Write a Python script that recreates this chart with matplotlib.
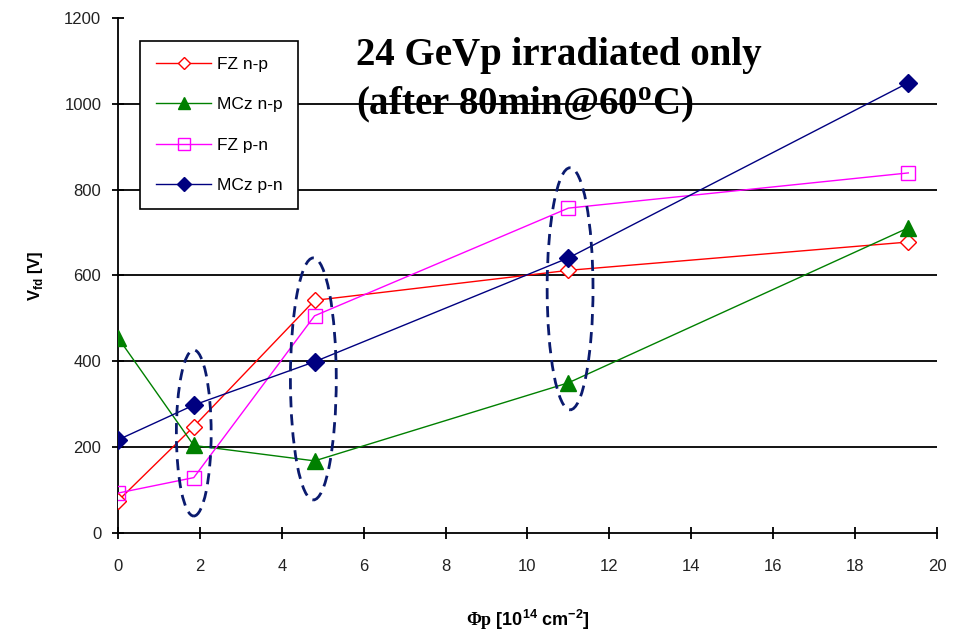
import matplotlib.pyplot as plt
from matplotlib.patches import Ellipse

fluence = [0, 1.85, 4.8, 11.0, 19.3]
fz_np = [75, 248, 542, 612, 678]
mcz_np = [455, 204, 168, 350, 711]
fz_pn = [93, 129, 506, 757, 839]
mcz_pn = [217, 298, 399, 641, 1049]

# ellipses around the grouped points: (x centre, y centre, width, height)
ellipse_x = [1.85, 4.77, 11.04]
ellipse_y = [233, 359, 569]
ellipse_w = [0.85, 1.12, 1.12]
ellipse_h = [387, 564, 564]

plt.rcParams['font.family'] = ['Liberation Sans', 'DejaVu Sans']
plt.rcParams['mathtext.fontset'] = 'custom'
plt.rcParams['mathtext.rm'] = 'Liberation Serif'
plt.rcParams['mathtext.bf'] = 'Liberation Serif:bold'
plt.rcParams['mathtext.sf'] = 'Liberation Sans:bold'

fig = plt.figure(figsize=(9.61, 6.38), dpi=100)
ax = fig.add_axes([0.1228, 0.1646, 0.975 - 0.1228, 0.9718 - 0.1646])

ax.plot(fluence, fz_np, color='red', lw=1, marker='D', ms=8, mfc='white',
        mec='red', label='FZ n-p', zorder=4)
ax.plot(fluence, mcz_np, color='green', lw=1, marker='^', ms=11, mfc='green',
        mec='green', label='MCz n-p', zorder=4)
ax.plot(fluence, fz_pn, color='magenta', lw=1, marker='s', ms=10, mfc='none',
        mec='magenta', label='FZ p-n', zorder=4)
ax.plot(fluence, mcz_pn, color='navy', lw=1, marker='D', ms=9, mfc='navy',
        mec='navy', label='MCz p-n', zorder=4)

for x, y, w, h in zip(ellipse_x, ellipse_y, ellipse_w, ellipse_h):
    ax.add_patch(Ellipse((x, y), w, h, fill=False, ec='#0a1a6e', lw=2,
                         ls=(0, (4, 2.5)), zorder=5))

for yv in range(200, 1200, 200):
    ax.axhline(yv, color='black', lw=1.3, zorder=1)

ax.set_xlim(0, 20)
ax.set_ylim(0, 1200)
ax.set_xticks(range(0, 21, 2))
ax.set_yticks(range(0, 1201, 200))
ax.spines['top'].set_visible(False)
ax.spines['right'].set_visible(False)
ax.spines['left'].set_linewidth(1.3)
ax.spines['bottom'].set_linewidth(1.3)
ax.tick_params(direction='inout', length=8, width=1.3, labelsize=12, pad=8,
               labelcolor='#222222')
ax.tick_params(axis='x', pad=15)

ax.set_xlabel(r'$\mathbf{\Phi p}$ [10$^{\mathsf{14}}$ cm$^{\mathsf{-2}}$]',
              fontsize=13, fontweight='bold', labelpad=24)
ax.set_ylabel(r'V$_{\mathsf{fd}}$ [V]', fontsize=12, fontweight='bold', labelpad=14)

leg = ax.legend(loc='upper left', bbox_to_anchor=(0.027, 0.955), fontsize=12.5,
                frameon=True, fancybox=False, edgecolor='black', framealpha=1,
                borderpad=0.9, labelspacing=1.45, handlelength=3.2,
                borderaxespad=0, markerscale=0.8, handletextpad=0.3)
leg.get_frame().set_linewidth(1.2)

ax.text(0.29, 0.928, '24 GeVp irradiated only', transform=ax.transAxes,
        fontsize=28, fontweight='bold', family='Liberation Serif', va='center')
ax.text(0.29, 0.831, r'(after 80min@60$^{\mathbf{o}}$C)', transform=ax.transAxes,
        fontsize=28, fontweight='bold', family='Liberation Serif', va='center')

fig.savefig('out.png', dpi=100)
